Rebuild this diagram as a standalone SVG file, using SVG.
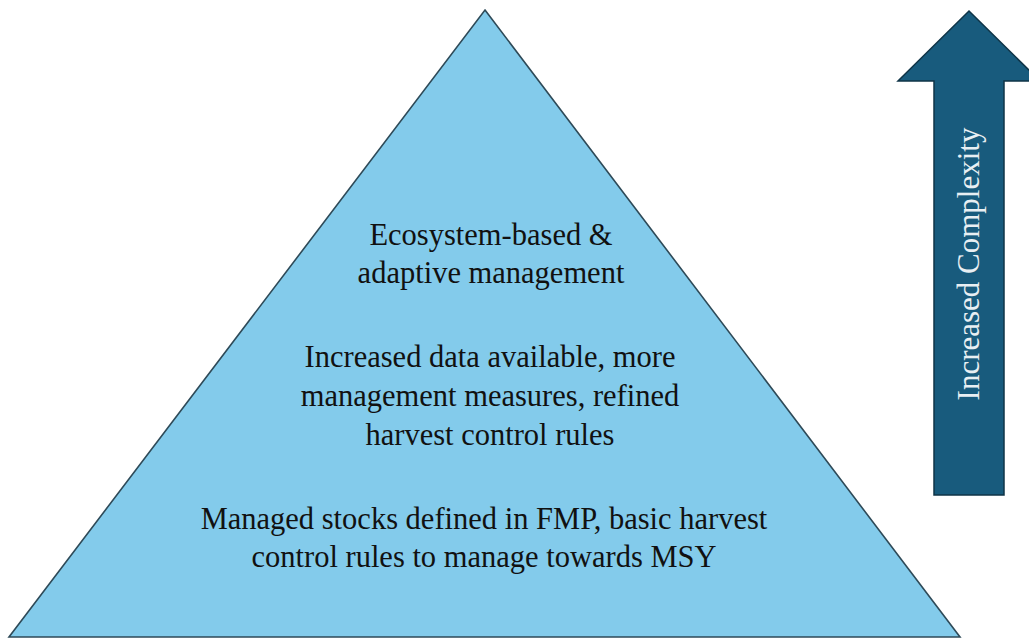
<svg xmlns="http://www.w3.org/2000/svg" width="1029" height="639" viewBox="0 0 1029 639">
<style>
.t{font-family:"Liberation Serif","Times New Roman",serif;font-size:30.5px;fill:#111111;text-anchor:middle}
.a{font-family:"Liberation Serif","Times New Roman",serif;font-size:31px;fill:#e8eff3;text-anchor:middle}
</style>
<rect width="1029" height="639" fill="#ffffff"/>
<g id="pyramid">
<polygon points="485,10 960,637 9,637" fill="#83cbeb" stroke="#2e4a58" stroke-width="1.6" stroke-linejoin="miter"/>
</g>
<g id="level-top">
<text class="t" x="491" y="245">Ecosystem-based &amp;</text>
<text class="t" x="491" y="283">adaptive management</text>
</g>
<g id="level-middle">
<text class="t" x="490" y="367">Increased data available, more</text>
<text class="t" x="490" y="406">management measures, refined</text>
<text class="t" x="490" y="445">harvest control rules</text>
</g>
<g id="level-bottom">
<text class="t" x="484" y="529">Managed stocks defined in FMP, basic harvest</text>
<text class="t" x="484" y="567">control rules to manage towards MSY</text>
</g>
<g id="complexity-arrow">
<polygon points="969,11 1040,81 1004,81 1004,495 934,495 934,81 898,81" fill="#185b7d" stroke="#0f3447" stroke-width="1.5"/>
<text class="a" transform="translate(979,264) rotate(-90)" x="0" y="0">Increased Complexity</text>
</g>
<g id="connectors"></g>
</svg>
